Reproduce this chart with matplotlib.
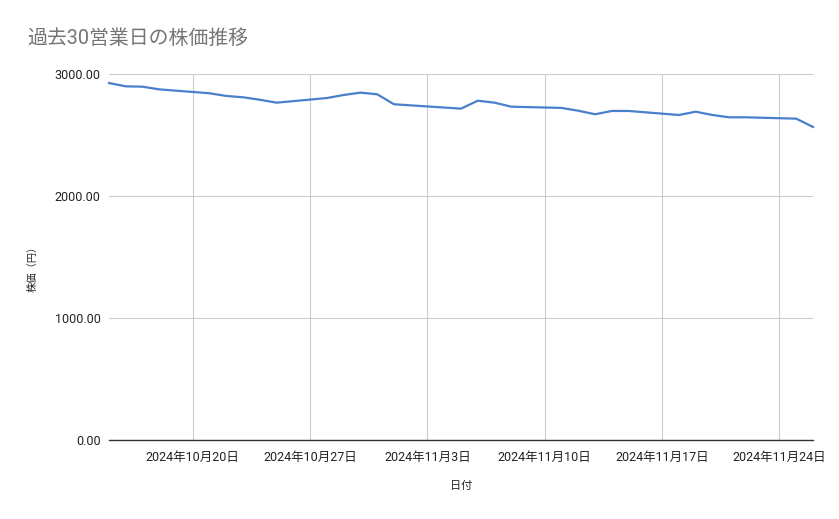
import matplotlib
matplotlib.use("Agg")
import matplotlib.pyplot as plt
import matplotlib.dates as mdates
import numpy as np
import datetime as dt

plt.rcParams['font.family'] = ['Roboto', 'Noto Sans CJK JP', 'DejaVu Sans']

dates = ["2024-10-15", "2024-10-16", "2024-10-17", "2024-10-18",
         "2024-10-21", "2024-10-22", "2024-10-23", "2024-10-24", "2024-10-25",
         "2024-10-28", "2024-10-29", "2024-10-30", "2024-10-31", "2024-11-01",
         "2024-11-05", "2024-11-06", "2024-11-07", "2024-11-08",
         "2024-11-11", "2024-11-12", "2024-11-13", "2024-11-14", "2024-11-15",
         "2024-11-18", "2024-11-19", "2024-11-20", "2024-11-21", "2024-11-22",
         "2024-11-25", "2024-11-26"]
prices = [2926, 2899, 2896, 2874,
          2842, 2820, 2809, 2789, 2765,
          2803, 2828, 2847, 2834, 2752,
          2716, 2781, 2765, 2732,
          2722, 2699, 2670, 2697, 2697,
          2664, 2691, 2664, 2645, 2645,
          2634, 2566]
tick_dates = ["2024-10-20", "2024-10-27", "2024-11-03", "2024-11-10", "2024-11-17", "2024-11-24"]
tick_labels = ["2024年10月20日", "2024年10月27日", "2024年11月3日", "2024年11月10日", "2024年11月17日", "2024年11月24日"]
yticks = [0, 1000, 2000, 3000]

x = [dt.datetime.strptime(d, "%Y-%m-%d") for d in dates]
xt = [dt.datetime.strptime(d, "%Y-%m-%d") for d in tick_dates]

W, H = 839, 519
fig = plt.figure(figsize=(W / 100, H / 100), dpi=100)
left, right, top, bottom = 109, 813, 74, 440
ax = fig.add_axes([left / W, 1 - bottom / H, (right - left) / W, (bottom - top) / H])

ax.plot(x, prices, color='#4a7fcb', linewidth=1.6, solid_joinstyle='round', zorder=3, clip_on=False)
ax.set_xlim(x[0], x[-1])
ax.set_ylim(0, 3000)

ax.set_yticks(yticks)
ax.set_yticklabels([f"{v:.2f}" for v in yticks])
ax.set_xticks(xt)
ax.set_xticklabels(tick_labels)

ax.grid(True, color='#cccccc', linewidth=0.8, zorder=0)
for s in ['left', 'right', 'top']:
    ax.spines[s].set_visible(False)
ax.spines['bottom'].set_color('#333333')
ax.spines['bottom'].set_linewidth(1.0)
ax.spines['bottom'].set_zorder(4)
ax.tick_params(axis='both', length=0, labelsize=9, colors='#222222')
ax.tick_params(axis='x', pad=8)
ax.tick_params(axis='y', pad=6)

fig.text(27 / W, 1 - 38 / H, "過去30営業日の株価推移", fontsize=14.3, color='#757575', va='center', ha='left')
fig.text(461 / W, 1 - 486 / H, "日付", fontsize=8, color='#222222', ha='center', va='center')
fig.text(33 / W, 1 - 266 / H, "株価（円）", fontsize=7.4, color='#222222', ha='center', va='center', rotation=90)

fig.savefig("out.png", dpi=100)
